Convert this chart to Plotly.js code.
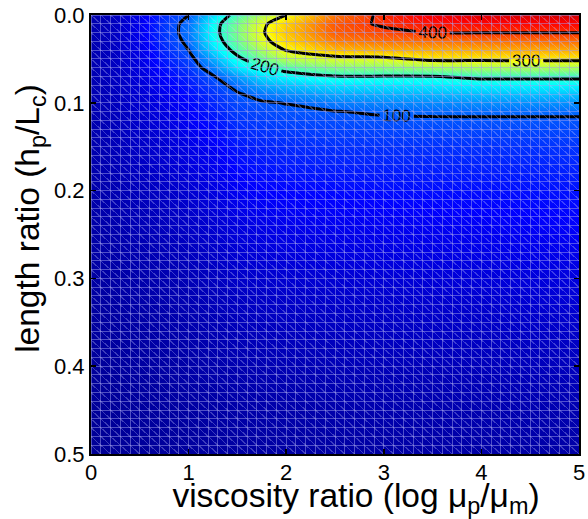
<!DOCTYPE html>
<html>
<head>
<meta charset="utf-8">
<script src="https://cdn.plot.ly/plotly-3.0.1.min.js"></script>
<style>html,body{margin:0;padding:0;background:#fff}#chart{width:588px;height:519px}</style>
</head>
<body>
<div id="chart"></div>
<script>
// ---------------- DATA ----------------
// viscosity ratio (log mu_p/mu_m) sample positions
const viscosityRatio = [0, 0.25, 0.5, 0.75, 1, 1.25, 1.5, 1.75, 2, 2.5, 3, 3.5, 4, 4.5, 5];
// length ratio (h_p/L_c) sample positions
const lengthRatio = [0, 0.01, 0.02, 0.03, 0.04, 0.05, 0.06, 0.07, 0.08, 0.09, 0.10, 0.11, 0.12, 0.13, 0.15, 0.20, 0.25, 0.30, 0.35, 0.40, 0.45, 0.50];
// field values, one column per viscosity ratio (top to bottom along lengthRatio)
const col_x0_00 = [14,15,16,16,16,16,16,16,16,16,16,16,15,15,14,13,11,9,7,5,4,3];
const col_x0_25 = [22,24,25,25,25,25,24,24,23,23,22,22,21,21,20,17,14,11,9,7,5,4];
const col_x0_50 = [42,46,46,45,43,41,39,37,35,33,32,31,30,29,27,22,18,14,11,9,7,5];
const col_x0_75 = [75,80,80,77,72,66,60,55,50,46,42,40,38,36,33,26,21,16,13,10,8,6];
const col_x1_00 = [100,112,114,108,100,88,80,72,65,60,56,53,50,47,42,32,25,19,15,12,9,7];
const col_x1_25 = [165,182,185,178,162,138,118,97,86,78,72,67,62,58,50,39,30,23,18,14,10,8];
const col_x1_50 = [216,238,240,232,215,190,165,132,110,97,90,84,79,74,64,48,36,28,21,16,12,9];
const col_x1_75 = [265,292,296,288,262,232,195,165,138,112,97,90,85,80,70,54,40,30,23,17,13,9];
const col_x2_00 = [300,326,330,322,302,268,218,180,150,124,101,94,89,84,74,56,42,32,24,18,13,10];
const col_x2_50 = [370,385,382,365,335,285,242,198,165,138,115,99,92,87,77,58,44,33,25,19,14,10];
const col_x3_00 = [408,405,392,372,340,290,245,198,168,142,120,104,95,89,78,59,45,34,26,20,15,10];
const col_x3_50 = [435,418,401,372,342,310,255,198,170,145,122,105,96,89,78,60,46,35,27,20,15,11];
const col_x4_00 = [445,422,401,372,342,310,258,210,175,148,124,106,96,89,78,60,47,36,27,21,16,11];
const col_x4_50 = [448,424,401,372,343,310,260,210,176,150,125,106,96,89,78,61,48,37,28,21,16,11];
const col_x5_00 = [450,425,401,373,343,310,260,210,176,150,125,106,96,90,79,62,49,38,29,22,16,11];
// contour levels
const contourLevels = [100, 200, 300, 400];
// tick labels
const xTickVals = [0, 1, 2, 3, 4, 5];
const xTickText = ['0', '1', '2', '3', '4', '5'];
const yTickVals = [0, 0.1, 0.2, 0.3, 0.4, 0.5];
const yTickText = ['0.0', '0.1', '0.2', '0.3', '0.4', '0.5'];

// ---------------- BUILD ----------------
const columns = [col_x0_00, col_x0_25, col_x0_50, col_x0_75, col_x1_00, col_x1_25, col_x1_50,
  col_x1_75, col_x2_00, col_x2_50, col_x3_00, col_x3_50, col_x4_00, col_x4_50, col_x5_00];
const z = lengthRatio.map((_, r) => columns.map(c => c[r]));

const jet = [[0,'rgb(0,0,143)'],[0.111,'rgb(0,0,255)'],[0.365,'rgb(0,255,255)'],
  [0.619,'rgb(255,255,0)'],[0.873,'rgb(255,0,0)'],[1,'rgb(128,0,0)']];

// mesh decoration (styling of the surface grid)
const MESH_NX = 50, MESH_NY = 50;
const x0 = viscosityRatio[0], x1 = viscosityRatio[viscosityRatio.length - 1];
const y0 = lengthRatio[0], y1 = lengthRatio[lengthRatio.length - 1];
const dx = (x1 - x0) / MESH_NX, dy = (y1 - y0) / MESH_NY;
const gx = [], gy = [];
for (let i = 0; i <= MESH_NX; i++) { const x = x0 + i * dx; gx.push(x, x, null); gy.push(y0, y1, null); }
for (let j = 0; j <= MESH_NY; j++) { const y = y0 + j * dy; gx.push(x0, x1, null); gy.push(y, y, null); }
const dgx = [], dgy = [];
for (let k = -MESH_NY; k <= MESH_NX; k++) {
  const iStart = Math.max(k, 0), jStart = iStart - k;
  const steps = Math.min(MESH_NX - iStart, MESH_NY - jStart);
  if (steps <= 0) continue;
  dgx.push(x0 + iStart * dx, x0 + (iStart + steps) * dx, null);
  dgy.push(y0 + jStart * dy, y0 + (jStart + steps) * dy, null);
}

const FONT = 'Liberation Sans, Arial, Helvetica, sans-serif';

const traces = [
  {
    type: 'contour',
    x: viscosityRatio, y: lengthRatio, z: z,
    colorscale: jet, zmin: 0, zmax: 490, showscale: false,
    autocontour: false,
    contours: {
      start: contourLevels[0], end: contourLevels[contourLevels.length - 1],
      size: contourLevels[1] - contourLevels[0],
      coloring: 'heatmap', showlines: true, showlabels: true,
      labelfont: {family: FONT, size: 17, color: 'black'}
    },
    line: {color: 'black', width: 3, smoothing: 0.6},
    hoverinfo: 'skip'
  },
  {
    type: 'scatter', mode: 'lines', x: dgx, y: dgy,
    line: {color: 'rgba(200,200,255,0.30)', width: 1},
    hoverinfo: 'skip', showlegend: false
  },
  {
    type: 'scatter', mode: 'lines', x: gx, y: gy,
    line: {color: 'rgba(160,160,235,0.50)', width: 1},
    hoverinfo: 'skip', showlegend: false
  }
];

const layout = {
  width: 588, height: 519,
  margin: {l: 91, r: 9, t: 15, b: 65},
  paper_bgcolor: '#ffffff', plot_bgcolor: '#ffffff',
  font: {family: FONT, color: 'black', size: 21},
  showlegend: false, hovermode: false,
  xaxis: {
    range: [0, 5], tickvals: xTickVals, ticktext: xTickText,
    ticks: 'inside', ticklen: 5, tickwidth: 1.5, tickcolor: 'black',
    showline: true, linecolor: 'black', linewidth: 2, mirror: 'ticks',
    showgrid: false, zeroline: false, layer: 'above traces',
    tickfont: {family: FONT, size: 22, color: 'black'},
    title: {text: 'viscosity ratio (log μ<sub>p</sub>/μ<sub>m</sub>)', font: {family: FONT, size: 33.5, color: 'black'}, standoff: 13}
  },
  yaxis: {
    range: [0.5, 0], tickvals: yTickVals, ticktext: yTickText,
    ticks: 'inside', ticklen: 5, tickwidth: 1.5, tickcolor: 'black',
    showline: true, linecolor: 'black', linewidth: 2, mirror: 'ticks',
    showgrid: false, zeroline: false, layer: 'above traces',
    tickfont: {family: FONT, size: 22, color: 'black'},
    title: {text: 'length ratio (h<sub>p</sub>/L<sub>c</sub>)', font: {family: FONT, size: 33.5, color: 'black'}, standoff: 4}
  }
};

function nudge(el, dxp, dyp) {
  if (!el) return;
  const t = el.getAttribute('transform') || '';
  el.setAttribute('transform', 'translate(' + dxp + ',' + dyp + ') ' + t);
}

Plotly.newPlot('chart', traces, layout, {displayModeBar: false, staticPlot: true}).then(gd => {
  // crisp 1px mesh lines, like the reference's rendered surface grid
  gd.querySelectorAll('.scatterlayer path.js-line').forEach(p => p.setAttribute('shape-rendering', 'crispEdges'));
  // nudge the axis titles and x tick labels to where the reference places them
  nudge(gd.querySelector('.g-xtitle text'), 21, 0);
  nudge(gd.querySelector('.g-ytitle text'), 0, -16);
  gd.querySelectorAll('.xtick text').forEach(t => nudge(t, 0, -2));
});
</script>
</body>
</html>
